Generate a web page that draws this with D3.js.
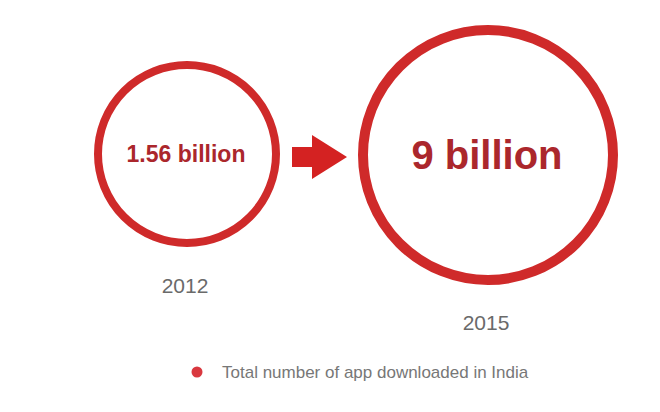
<!DOCTYPE html>
<html><head><meta charset="utf-8">
<script src="https://cdn.jsdelivr.net/npm/d3@7"></script>
<style>html,body{margin:0;padding:0;background:#fff;}svg{display:block;font-family:"Liberation Sans",Arial,Helvetica,sans-serif;}</style>
</head><body>
<script>
const years = ["2012", "2015"];
const values = [1.56, 9];
const valueLabels = ["1.56 billion", "9 billion"];
const legendLabel = "Total number of app downloaded in India";

const W = 660, H = 412;
const svg = d3.select("body").append("svg").attr("width", W).attr("height", H);

const x = d3.scalePoint().domain(years).range([187, 488]);
const r = d3.scaleLinear().domain([1.56, 9]).range([89, 125]);
const strokeW = d3.scaleLinear().domain([1.56, 9]).range([8, 10]);
const fontS = d3.scaleLinear().domain([1.56, 9]).range([23, 40]);
const cyScale = d3.scaleLinear().domain([1.56, 9]).range([154, 155]);

const data = years.map((y, i) => ({year: y, value: values[i], label: valueLabels[i]}));

const g = svg.selectAll("g.item").data(data).enter().append("g").attr("class", "item");

g.append("circle")
  .attr("cx", d => x(d.year))
  .attr("cy", d => cyScale(d.value))
  .attr("r", d => r(d.value))
  .attr("fill", "none")
  .attr("stroke", "#cf2a2a")
  .attr("stroke-width", d => strokeW(d.value));

g.append("text")
  .attr("x", d => x(d.year) - 1)
  .attr("y", d => cyScale(d.value))
  .attr("dy", d => fontS(d.value) * 0.36)
  .attr("text-anchor", "middle")
  .attr("font-weight", "bold")
  .attr("font-size", d => fontS(d.value))
  .attr("fill", "#ab272c")
  .text(d => d.label);

g.append("text")
  .attr("x", d => x(d.year) - 2)
  .attr("y", d => cyScale(d.value) + r(d.value) + 50)
  .attr("text-anchor", "middle")
  .attr("font-size", 21)
  .attr("fill", "#6a6a6a")
  .text(d => d.year);

// arrow between circles
const ax0 = 292, ay = 157;
svg.append("path")
  .attr("d", `M${ax0},${ay-10} L312,${ay-10} L312,${ay-22} L347,${ay} L312,${ay+22} L312,${ay+10} L${ax0},${ay+10} Z`)
  .attr("fill", "#d42222");

// legend
svg.append("circle").attr("cx", 197).attr("cy", 372).attr("r", 5.5).attr("fill", "#d9383f");
svg.append("text").attr("x", 222).attr("y", 378)
  .attr("font-size", 17).attr("fill", "#777")
  .text(legendLabel);
</script>
</body></html>
